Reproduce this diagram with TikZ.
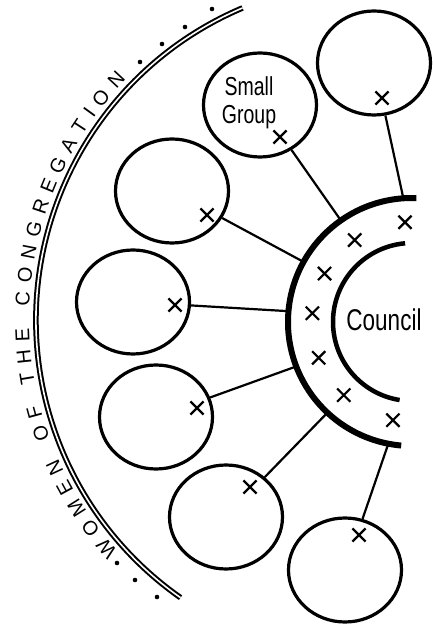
\documentclass[tikz,border=0pt]{standalone}
\usepackage{fontspec}
\setmainfont{Liberation Sans}
\newfontfamily\handfont[FakeStretch=0.75]{Liberation Sans}
\usetikzlibrary{shapes.geometric, shapes.misc, decorations.text}

\begin{document}
\begin{tikzpicture}[x=1pt, y=1pt,
  grp/.style={draw, ellipse, line width=3.2pt, minimum width=113pt, minimum height=104pt, inner sep=0pt},
  xmark/.style={draw, cross out, line width=2.2pt, minimum size=11pt, inner sep=0pt},
  link/.style={line width=2.2pt}]
  \useasboundingbox (0,0) rectangle (433,627);
  \coordinate (ctr) at (412,305);
  \coordinate (wc) at (375,307);

  % women of the congregation
  \draw[line width=2pt, double, double distance=1.6pt] ([shift={(113:339)}]wc) arc[start angle=113, end angle=235, radius=339];
  \path[decorate, decoration={text along path, text align=fit to path,
    text={|\fontsize{20}{20}\selectfont|WOMEN OF THE CONGREGATION}}]
    ([shift={(222:346)}]wc) arc[start angle=222, end angle=136, radius=346];
  \foreach \p in {(140,565),(162,583),(185,600),(212,618),(117,64),(135,47),(157,30)}
    \fill \p circle (2.3pt);

  % council
  \draw[line width=6pt] ([shift={(88:124)}]ctr) arc[start angle=88, end angle=265, radius=124];
  \draw[line width=4.5pt] ([shift={(95:79)}]ctr) arc[start angle=95, end angle=261, radius=79];
  \node[font=\handfont\fontsize{30}{30}\selectfont] (council) at (384,307) {Council};

  % small groups
  \node[grp] (g1) at (374,564) {};
  \node[grp] (g2) at (260,522) {};
  \node[grp] (g3) at (172,436) {};
  \node[grp] (g4) at (133,325) {};
  \node[grp] (g5) at (156,210) {};
  \node[grp] (g6) at (226,110) {};
  \node[grp] (g7) at (345,57) {};
  \node[font=\handfont\fontsize{26}{28}\selectfont, align=center] (sg) at (249,524) {Small\\Group};

  \node[xmark] (m1) at (382,529) {};
  \node[xmark] (m2) at (280,490) {};
  \node[xmark] (m3) at (207,412) {};
  \node[xmark] (m4) at (175,322) {};
  \node[xmark] (m5) at (197,219) {};
  \node[xmark] (m6) at (250,140) {};
  \node[xmark] (m7) at (359,92) {};

  \foreach \n/\a in {1/94, 2/125, 3/151, 4/175, 5/201, 6/227, 7/259} {
    \coordinate (e\n) at ([shift={(\a:124)}]ctr);
    \node[xmark] (b\n) at ([shift={(\a:100)}]ctr) {};
    \draw[link] (g\n) -- (e\n);
  }
\end{tikzpicture}
\end{document}
